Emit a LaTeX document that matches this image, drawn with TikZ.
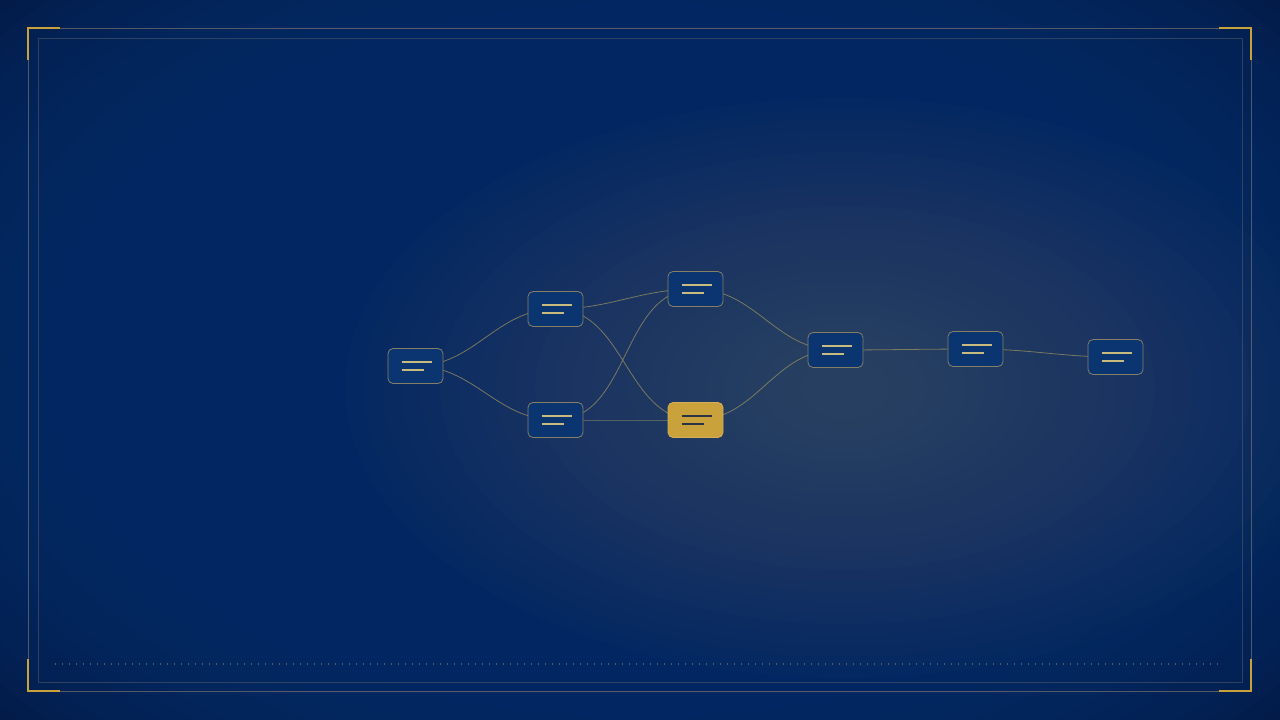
\documentclass[tikz,border=0pt]{standalone}

\definecolor{bgdark}{HTML}{021B48}
\definecolor{bgmid}{HTML}{062E69}
\definecolor{glow}{HTML}{626F64}
\definecolor{gold}{HTML}{C9A23C}
\definecolor{barcol}{HTML}{C8BB7E}
\definecolor{edgecol}{HTML}{8A8560}
\definecolor{boxfill}{HTML}{0A3570}
\definecolor{boxline}{HTML}{857F66}
\definecolor{framecol}{HTML}{66686C}
\definecolor{darkbar}{HTML}{2A3346}

\pgfdeclarelayer{background}
\pgfdeclarelayer{links}
\pgfsetlayers{background,links,main}

\tikzset{
  flowbox/.style={draw=boxline, line width=0.8pt, fill=boxfill, rounded corners=5pt,
    minimum width=55pt, minimum height=35pt, inner sep=0pt,
    path picture={\draw[#1, line width=2pt]
      ([xshift=-14pt,yshift=4pt]path picture bounding box.center) -- ++(30pt,0pt)
      ([xshift=-14pt,yshift=-4pt]path picture bounding box.center) -- ++(22pt,0pt);}},
  flowbox/.default=barcol,
  active/.style={flowbox=darkbar, fill=gold, draw=gold!85!white},
  link/.style={draw=edgecol, line width=0.8pt, opacity=0.85},
  corner/.style={gold, line width=1.6pt}
}

\begin{document}
\begin{tikzpicture}[x=1pt,y=-1pt]
  \useasboundingbox (0,0) rectangle (1280,720);

  % backdrop: vignette and warm glow built from stacked ellipses
  \begin{pgfonlayer}{background}
    \fill[bgdark] (0,0) rectangle (1280,720);
    \foreach \k in {0,...,19}
      \fill[bgmid, opacity=0.12] (640,360) ellipse [x radius={830-18*\k}, y radius={540-14*\k}];
    \foreach \k in {0,...,24}
      \fill[glow, opacity=0.026] (845,388) ellipse [x radius={500-19*\k}, y radius={290-10.8*\k}];
    % frame
    \draw[framecol, opacity=0.8, line width=0.8pt] (28,28) rectangle (1251,691);
    \draw[framecol, opacity=0.45, line width=0.7pt] (38,38) rectangle (1242,682);
    \draw[framecol, opacity=0.8, line width=1.3pt, dash pattern=on 1.3pt off 5.7pt] (55,664) -- (1222,664);
    \draw[corner] (28,60) -- (28,28) -- (60,28);
    \draw[corner] (1219,28) -- (1251,28) -- (1251,60);
    \draw[corner] (28,659) -- (28,691) -- (60,691);
    \draw[corner] (1219,691) -- (1251,691) -- (1251,659);
  \end{pgfonlayer}

  % stages
  \node[flowbox] (in) at (415.5,366) {};
  \node[flowbox] (up1) at (555.5,309) {};
  \node[flowbox] (lo1) at (555.5,420) {};
  \node[flowbox] (up2) at (695.5,289) {};
  \node[active] (lo2) at (695.5,420) {};
  \node[flowbox] (join) at (835.5,350) {};
  \node[flowbox] (relay) at (975.5,349) {};
  \node[flowbox] (out) at (1115.5,357) {};

  % connections
  \begin{pgfonlayer}{links}
    \foreach \s/\t in {in/up1, in/lo1, up1/up2, up1/lo2, lo1/up2, lo1/lo2,
                       up2/join, lo2/join, join/relay, relay/out}
      \draw[link] (\s.center) to[out=0,in=180] (\t.center);
  \end{pgfonlayer}
\end{tikzpicture}
\end{document}
